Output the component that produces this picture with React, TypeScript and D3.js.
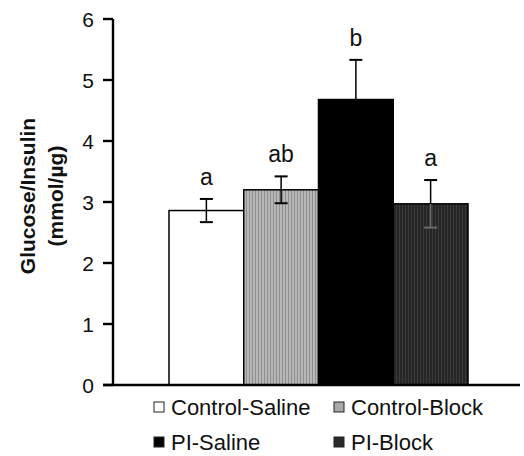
import React from "react";
import * as d3 from "d3";

const groups = ["Control-Saline", "Control-Block", "PI-Saline", "PI-Block"];
const means = [2.86, 3.2, 4.68, 2.97];
const errors = [0.19, 0.22, 0.65, 0.39];
const letters = ["a", "ab", "b", "a"];
const yTicks = [0, 1, 2, 3, 4, 5, 6];
const legendRows = [["Control-Saline", "Control-Block"], ["PI-Saline", "PI-Block"]];

const fills: Record<string, string> = {
  "Control-Saline": "#ffffff",
  "Control-Block": "url(#patLight)",
  "PI-Saline": "#000000",
  "PI-Block": "url(#patDark)",
};
const legendFills: Record<string, string> = {
  "Control-Saline": "#ffffff",
  "Control-Block": "#a8a8a8",
  "PI-Saline": "#000000",
  "PI-Block": "#2a2a2a",
};
const lowerWhisker: Record<string, string | null> = {
  "Control-Saline": "#000",
  "Control-Block": "#000",
  "PI-Saline": null,
  "PI-Block": "#6a6a6a",
};

export default function App() {
  const W = 524, H = 456;
  const axisX = 113;
  const y = d3.scaleLinear().domain([0, 6]).range([385, 19]);
  const x = d3.scaleBand().domain(groups).range([169, 468]).padding(0);
  const font = "Arial, 'Liberation Sans', sans-serif";
  const legendX = [153, 333];
  const legendY = [407, 442];
  return (
    <svg width={W} height={H} style={{ position: "absolute", left: 0, top: 0 }}>
      <defs>
        <pattern id="patLight" width="3" height="4" patternUnits="userSpaceOnUse">
          <rect width="3" height="4" fill="#b8b8b8" />
          <rect width="1" height="4" fill="#8e8e8e" />
        </pattern>
        <pattern id="patDark" width="3" height="4" patternUnits="userSpaceOnUse">
          <rect width="3" height="4" fill="#262626" />
          <rect width="1" height="4" fill="#3a3a3a" />
        </pattern>
      </defs>
      <rect width={W} height={H} fill="#fff" />
      {groups.map((g, i) => {
        const x0 = x(g)!;
        const bw = x.bandwidth();
        const cx = x0 + bw / 2;
        const top = y(means[i]);
        const eTop = y(means[i] + errors[i]);
        const eBot = y(means[i] - errors[i]);
        const lw = lowerWhisker[g];
        return (
          <g key={g}>
            <rect x={x0} y={top} width={bw} height={y(0) - top} fill={fills[g]} stroke="#000" strokeWidth={1.5} />
            <line x1={cx} x2={cx} y1={eTop} y2={top} stroke="#000" strokeWidth={1.5} />
            <line x1={cx - 6.5} x2={cx + 6.5} y1={eTop} y2={eTop} stroke="#000" strokeWidth={2} />
            {lw && (
              <g>
                <line x1={cx} x2={cx} y1={top} y2={eBot} stroke={lw} strokeWidth={1.5} />
                <line x1={cx - 6.5} x2={cx + 6.5} y1={eBot} y2={eBot} stroke={lw} strokeWidth={2} />
              </g>
            )}
            <text x={cx} y={eTop - 14} textAnchor="middle" fontFamily={font} fontSize={23} fill="#111">
              {letters[i]}
            </text>
          </g>
        );
      })}
      <line x1={axisX} x2={axisX} y1={y(6)} y2={y(0)} stroke="#000" strokeWidth={2.4} />
      <line x1={103} x2={520} y1={y(0)} y2={y(0)} stroke="#000" strokeWidth={2.4} />
      {yTicks.map((t) => (
        <g key={t}>
          <line x1={103} x2={axisX} y1={y(t)} y2={y(t)} stroke="#000" strokeWidth={2.4} />
          <text x={94} y={y(t)} dy="0.36em" textAnchor="end" fontFamily={font} fontSize={21} fill="#111">
            {t}
          </text>
        </g>
      ))}
      <text transform="translate(28,196) rotate(-90)" textAnchor="middle" dy="0.35em" fontFamily={font} fontSize={21} fontWeight="bold" fill="#111">
        Glucose/Insulin
      </text>
      <text transform="translate(56,196) rotate(-90)" textAnchor="middle" dy="0.35em" fontFamily={font} fontSize={21} fontWeight="bold" fill="#111">
        (mmol/µg)
      </text>
      {legendRows.map((row, r) =>
        row.map((g, c) => (
          <g key={g}>
            <rect x={legendX[c] + 1} y={legendY[r] - 5} width={10} height={10} fill={legendFills[g]} stroke="#222" strokeWidth={1} />
            <text x={legendX[c] + 18} y={legendY[r]} dy="0.36em" fontFamily={font} fontSize={22} fill="#111">
              {g}
            </text>
          </g>
        ))
      )}
    </svg>
  );
}
